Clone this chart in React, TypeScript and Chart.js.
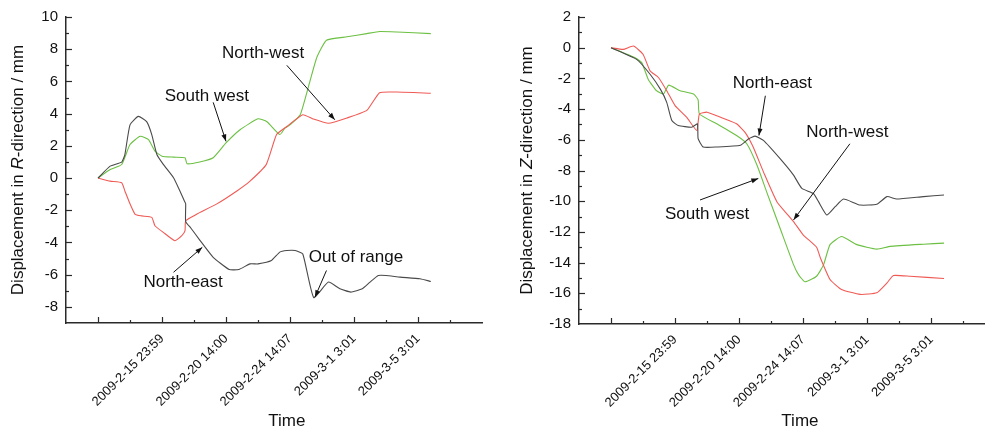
import React, { useEffect, useRef } from 'react';
import { Chart, registerables } from 'chart.js';
Chart.register(...registerables);

// ---------- data ----------
const X_LABEL_VALUES = [1, 2, 3, 4, 5];
const X_LABELS = ['', '2009-2-15 23:59', '2009-2-20 14:00', '2009-2-24 14:07', '2009-3-1 3:01', '2009-3-5 3:01'];
const R_Y_TICKS = [-8, -6, -4, -2, 0, 2, 4, 6, 8, 10];
const Z_Y_TICKS = [-18, -16, -14, -12, -10, -8, -6, -4, -2, 0, 2];

// Left chart: R-direction
const R_NE_X = [0, 0.19, 0.37, 0.42, 0.5, 0.63, 0.76, 0.84, 0.92, 1.02, 1.18, 1.28, 1.35, 1.37, 1.37, 1.45, 1.59, 1.8, 2.05, 2.2, 2.375, 2.5, 2.71, 2.84, 2.95, 3.08, 3.2, 3.37, 3.6, 3.78, 3.95, 4.13, 4.25, 4.38, 4.5, 4.72, 5.03, 5.2];
const R_NE_Y = [0, 0.74, 0.99, 1.46, 3.3, 3.83, 3.5, 2.7, 1.46, 0.85, 0.02, -0.8, -1.42, -1.6, -2.7, -3.1, -3.85, -4.92, -5.68, -5.68, -5.33, -5.33, -5.12, -4.6, -4.5, -4.5, -4.72, -7.42, -6.46, -6.87, -7.08, -6.87, -6.46, -6.05, -6.05, -6.15, -6.25, -6.42];
const R_NW_X = [0, 0.19, 0.37, 0.42, 0.5, 0.58, 0.68, 0.84, 0.89, 1.02, 1.2, 1.31, 1.36, 1.37, 1.54, 1.85, 2.17, 2.375, 2.63, 2.79, 2.95, 3.2, 3.36, 3.6, 3.89, 4.2, 4.4, 4.67, 5.2];
const R_NW_Y = [0, -0.19, -0.29, -0.8, -1.6, -2.25, -2.35, -2.44, -2.96, -3.37, -3.89, -3.58, -3.27, -2.65, -2.25, -1.62, -0.8, -0.19, 0.85, 2.7, 3.2, 3.93, 3.67, 3.4, 3.73, 4.2, 5.3, 5.34, 5.27];
const R_SW_X = [0, 0.19, 0.37, 0.5, 0.66, 0.79, 0.89, 1.0, 1.18, 1.36, 1.39, 1.59, 1.8, 2.0, 2.22, 2.5, 2.64, 2.84, 2.92, 3.0, 3.16, 3.31, 3.42, 3.57, 3.89, 4.2, 4.4, 4.67, 5.2];
const R_SW_Y = [0, 0.53, 0.84, 2.08, 2.59, 2.39, 1.67, 1.36, 1.3, 1.26, 0.89, 1.0, 1.26, 2.18, 3.0, 3.68, 3.5, 2.7, 3.1, 3.3, 3.93, 5.99, 7.5, 8.56, 8.77, 8.97, 9.1, 9.07, 8.97];

// Right chart: Z-direction
const Z_NE_X = [0, 0.4, 0.61, 0.77, 0.87, 0.95, 1.05, 1.26, 1.35, 1.36, 1.44, 1.65, 2.02, 2.15, 2.25, 2.38, 2.64, 2.85, 2.98, 3.16, 3.24, 3.37, 3.5, 3.63, 3.89, 4.15, 4.31, 4.46, 4.88, 5.2];
const Z_NE_Y = [0, -0.76, -1.73, -2.7, -3.56, -4.75, -5.07, -5.18, -4.96, -5.93, -6.47, -6.47, -6.36, -5.93, -5.76, -6.04, -7.23, -8.3, -9.17, -9.5, -10.03, -10.9, -10.36, -9.86, -10.25, -10.2, -9.7, -9.86, -9.7, -9.6];
const Z_NW_X = [0, 0.19, 0.35, 0.5, 0.61, 0.74, 0.87, 1.0, 1.18, 1.34, 1.38, 1.5, 1.75, 1.96, 2.09, 2.22, 2.38, 2.59, 2.85, 3.0, 3.21, 3.27, 3.42, 3.6, 3.89, 4.15, 4.31, 4.41, 4.67, 5.2];
const Z_NW_Y = [0, -0.11, 0.11, -0.43, -1.51, -1.94, -2.8, -3.77, -4.53, -5.39, -4.32, -4.2, -4.6, -4.96, -5.5, -6.47, -8.09, -10.03, -11.33, -12.19, -13.0, -13.7, -15.1, -15.75, -16.07, -15.97, -15.32, -14.84, -14.89, -15.04];
const Z_SW_X = [0, 0.375, 0.48, 0.58, 0.71, 0.82, 0.9, 1.08, 1.29, 1.36, 1.38, 1.65, 1.96, 2.12, 2.28, 2.43, 2.64, 2.85, 2.93, 3.03, 3.21, 3.32, 3.42, 3.6, 3.84, 4.15, 4.36, 4.88, 5.2];
const Z_SW_Y = [0, -0.65, -0.97, -2.05, -2.8, -3.02, -2.44, -2.8, -3.02, -3.4, -4.32, -4.96, -5.72, -6.26, -7.66, -9.39, -11.76, -14.13, -14.8, -15.25, -14.89, -14.13, -12.83, -12.3, -12.83, -13.12, -12.94, -12.8, -12.73];

// ---------- styles ----------
const FONT = '"Liberation Sans", Arial, Helvetica, sans-serif';
const AXIS_COLOR = '#2a2a2a';
const TEXT_COLOR = '#111111';
const C_NE = '#4a4a4a';
const C_NW = '#f05a55';
const C_SW = '#6cc043';

const pts = (xs: number[], ys: number[]) => xs.map((x, i) => ({ x, y: ys[i] }));

type Ann = { text: string; tx: number; ty: number; ax: number; ay: number; bx: number; by: number };

const R_ANN: Ann[] = [
  { text: 'South west', tx: 1.70, ty: 5.06, ax: 1.80, ay: 4.70, bx: 2.0, by: 2.28 },
  { text: 'North-west', tx: 2.58, ty: 7.72, ax: 2.95, ay: 7.0, bx: 3.7, by: 3.62 },
  { text: 'North-east', tx: 1.33, ty: -6.48, ax: 1.18, ay: -5.85, bx: 1.63, by: -4.3 },
  { text: 'Out of range', tx: 4.03, ty: -4.94, ax: 3.57, ay: -5.74, bx: 3.39, by: -7.39 },
];
const Z_ANN: Ann[] = [
  { text: 'North-east', tx: 2.52, ty: -2.33, ax: 2.41, ay: -3.13, bx: 2.31, by: -5.72 },
  { text: 'North-west', tx: 3.69, ty: -5.5, ax: 3.73, ay: -6.26, bx: 2.85, by: -11.22 },
  { text: 'South west', tx: 1.5, ty: -10.87, ax: 1.39, ay: -9.92, bx: 2.3, by: -8.52 },
];

type Spec = {
  left: number; width: number;
  yMin: number; yMax: number; yTicks: number[];
  xMax: number; dir: string;
  yAxisWidth: number; xAxisHeight: number; padRight: number;
  yTitleX: number;
  series: { data: { x: number; y: number }[]; color: string }[];
  ann: Ann[];
};

const H = 430;

function overlay(spec: Spec) {
  return {
    id: 'overlay',
    afterDraw(chart: any) {
      const ctx = chart.ctx as CanvasRenderingContext2D;
      const xs = chart.scales.x, ys = chart.scales.y;
      const area = chart.chartArea;
      ctx.save();
      ctx.strokeStyle = AXIS_COLOR;
      ctx.lineWidth = 1.2;
      // x ticks (inward)
      for (let k = 0; k * 0.5 <= spec.xMax - 0.05; k++) {
        const v = k * 0.5;
        const px = Math.round(xs.getPixelForValue(v)) + 0.5;
        const len = k % 2 === 0 ? 6 : 3;
        ctx.beginPath();
        ctx.moveTo(px, area.bottom);
        ctx.lineTo(px, area.bottom - len);
        ctx.stroke();
      }
      // y ticks (inward)
      for (let v = spec.yMin + 1; v <= spec.yMax; v++) {
        const py = Math.round(ys.getPixelForValue(v)) + 0.5;
        const len = v % 2 === 0 ? 6 : 3;
        ctx.beginPath();
        ctx.moveTo(area.left, py);
        ctx.lineTo(area.left + len, py);
        ctx.stroke();
      }
      // y title with italic direction letter
      ctx.fillStyle = TEXT_COLOR;
      const normal = `17px ${FONT}`;
      const italic = `italic 17px ${FONT}`;
      const parts: [string, boolean][] = [['Displacement in ', false], [spec.dir, true], ['-direction / mm', false]];
      let total = 0;
      const widths = parts.map(([t, it]) => { ctx.font = it ? italic : normal; const w = ctx.measureText(t).width; total += w; return w; });
      ctx.save();
      ctx.translate(spec.yTitleX, (area.top + area.bottom) / 2);
      ctx.rotate(-Math.PI / 2);
      ctx.textBaseline = 'middle';
      ctx.textAlign = 'left';
      let cx = -total / 2;
      parts.forEach(([t, it], i) => { ctx.font = it ? italic : normal; ctx.fillText(t, cx, 0); cx += widths[i]; });
      ctx.restore();
      // x title
      ctx.font = normal;
      ctx.textAlign = 'center';
      ctx.textBaseline = 'middle';
      ctx.fillText('Time', xs.getPixelForValue(2.95), 421);
      // annotations
      ctx.strokeStyle = '#111';
      ctx.lineWidth = 1;
      spec.ann.forEach((a) => {
        ctx.fillText(a.text, xs.getPixelForValue(a.tx), ys.getPixelForValue(a.ty));
        const x1 = xs.getPixelForValue(a.ax), y1 = ys.getPixelForValue(a.ay);
        const x2 = xs.getPixelForValue(a.bx), y2 = ys.getPixelForValue(a.by);
        ctx.beginPath(); ctx.moveTo(x1, y1); ctx.lineTo(x2, y2); ctx.stroke();
        const ang = Math.atan2(y2 - y1, x2 - x1);
        const L = 7, W = 2.5;
        ctx.beginPath();
        ctx.moveTo(x2, y2);
        ctx.lineTo(x2 - L * Math.cos(ang) + W * Math.sin(ang), y2 - L * Math.sin(ang) - W * Math.cos(ang));
        ctx.lineTo(x2 - L * Math.cos(ang) - W * Math.sin(ang), y2 - L * Math.sin(ang) + W * Math.cos(ang));
        ctx.closePath();
        ctx.fillStyle = '#111';
        ctx.fill();
      });
      ctx.restore();
    },
  };
}

function Panel({ spec }: { spec: Spec }) {
  const ref = useRef<HTMLCanvasElement>(null);
  useEffect(() => {
    if (!ref.current) return;
    const chart = new Chart(ref.current, {
      type: 'line',
      data: {
        datasets: spec.series.map((s) => ({
          data: s.data,
          borderColor: s.color,
          backgroundColor: s.color,
          borderWidth: 1.1,
          pointRadius: 0,
          tension: 0.15,
          fill: false,
        })),
      },
      options: {
        animation: false,
        responsive: false,
        maintainAspectRatio: false,
        parsing: false as any,
        layout: { padding: { top: 15, right: spec.padRight, bottom: 0, left: 0 } },
        plugins: { legend: { display: false }, tooltip: { enabled: false } },
        scales: {
          x: {
            type: 'linear',
            min: -0.5,
            max: spec.xMax,
            afterBuildTicks: (s: any) => { s.ticks = X_LABEL_VALUES.map((v) => ({ value: v })); },
            afterFit: (s: any) => { s.height = spec.xAxisHeight; },
            grid: { display: false, drawTicks: false },
            border: { display: true, color: AXIS_COLOR, width: 1.5 },
            ticks: {
              autoSkip: false,
              minRotation: 45,
              maxRotation: 45,
              padding: 8,
              color: TEXT_COLOR,
              font: { family: FONT, size: 13 },
              callback: (v: any) => X_LABELS[Math.round(Number(v))] ?? '',
            },
          },
          y: {
            type: 'linear',
            min: spec.yMin,
            max: spec.yMax,
            afterBuildTicks: (s: any) => { s.ticks = spec.yTicks.map((v) => ({ value: v })); },
            afterFit: (s: any) => { s.width = spec.yAxisWidth; },
            grid: { display: false, drawTicks: false },
            border: { display: true, color: AXIS_COLOR, width: 1.5 },
            ticks: {
              padding: 8,
              color: TEXT_COLOR,
              font: { family: FONT, size: 15 },
              callback: (v: any) => String(v),
            },
          },
        },
      },
      plugins: [overlay(spec)],
    } as any);
    return () => chart.destroy();
  }, [spec]);
  return (
    <div style={{ position: 'absolute', left: spec.left, top: 0, width: spec.width, height: H }}>
      <canvas ref={ref} width={spec.width} height={H} style={{ width: spec.width, height: H, display: 'block' }} />
    </div>
  );
}

const LEFT: Spec = {
  left: 0, width: 490,
  yMin: -9, yMax: 10, yTicks: R_Y_TICKS,
  xMax: 6.0, dir: 'R',
  yAxisWidth: 66, xAxisHeight: H - 323, padRight: 8,
  yTitleX: 18.5,
  series: [
    { data: pts(R_NE_X, R_NE_Y), color: C_NE },
    { data: pts(R_NW_X, R_NW_Y), color: C_NW },
    { data: pts(R_SW_X, R_SW_Y), color: C_SW },
  ],
  ann: R_ANN,
};

const RIGHT: Spec = {
  left: 490, width: 495,
  yMin: -18, yMax: 2, yTicks: Z_Y_TICKS,
  xMax: 5.84, dir: 'Z',
  yAxisWidth: 89, xAxisHeight: H - 324, padRight: 0,
  yTitleX: 37,
  series: [
    { data: pts(Z_NE_X, Z_NE_Y), color: C_NE },
    { data: pts(Z_NW_X, Z_NW_Y), color: C_NW },
    { data: pts(Z_SW_X, Z_SW_Y), color: C_SW },
  ],
  ann: Z_ANN,
};

export default function App() {
  return (
    <div style={{ position: 'absolute', left: 0, top: 0, width: 985, height: H, background: '#fff', overflow: 'hidden' }}>
      <Panel spec={LEFT} />
      <Panel spec={RIGHT} />
    </div>
  );
}
